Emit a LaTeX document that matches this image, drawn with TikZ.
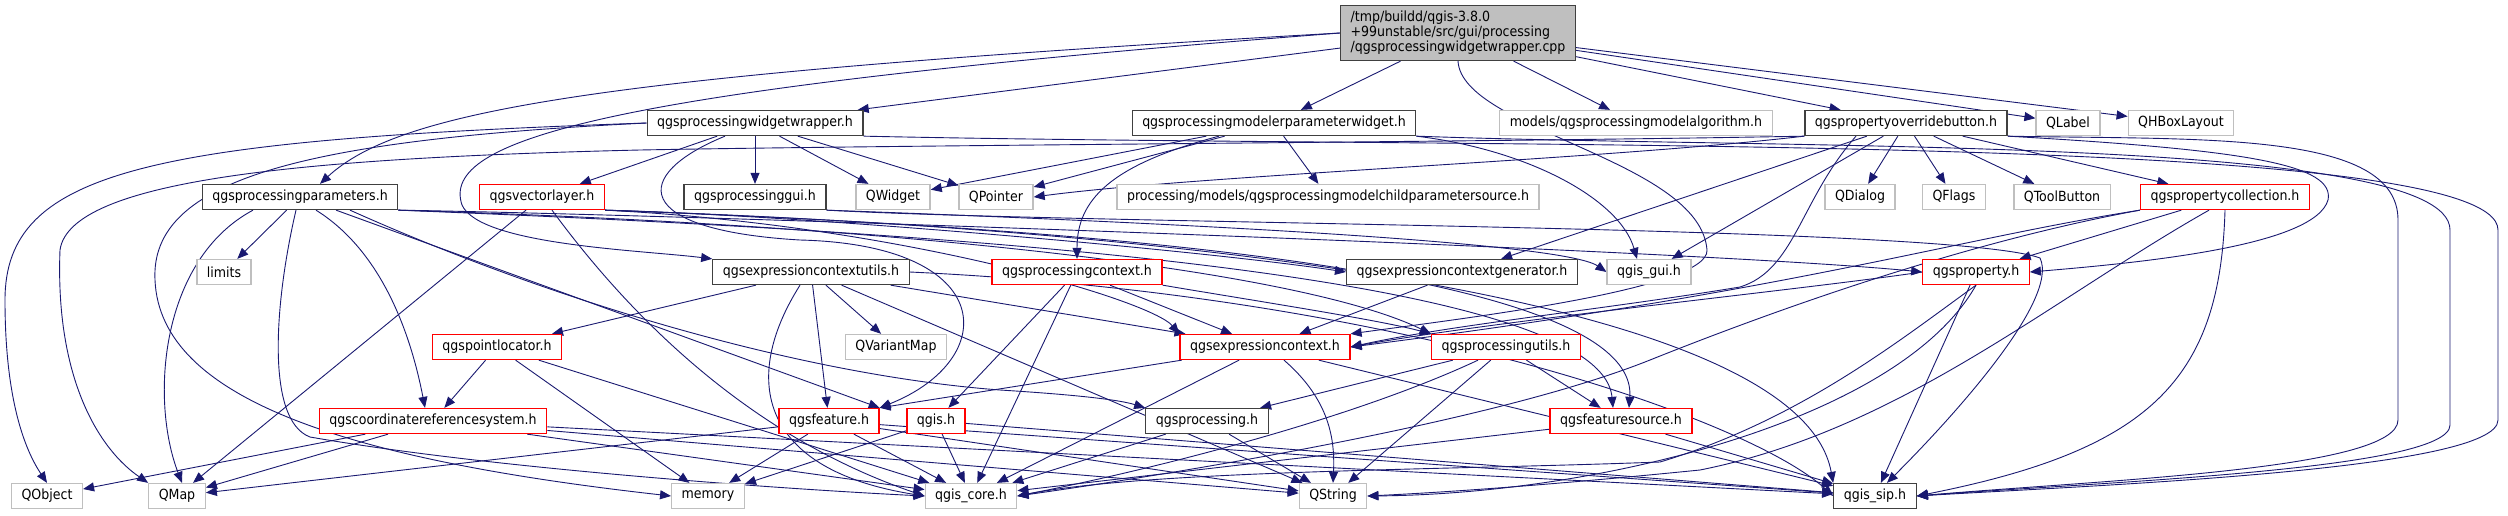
\documentclass[tikz,border=0pt]{standalone}
\usepackage{fontspec}
\setmainfont{DejaVu Sans Condensed}
\usetikzlibrary{arrows.meta,backgrounds}
\definecolor{edgeblue}{HTML}{191970}
\definecolor{extgray}{HTML}{BFBFBF}
\definecolor{boxdark}{HTML}{404040}

\begin{document}
\begin{tikzpicture}[x=1pt,y=-1pt,
    hdr/.style={draw=boxdark,fill=white,line width=1.3pt,inner xsep=10pt,inner ysep=0pt,
                minimum height=25pt,font=\fontsize{14}{15}\selectfont},
    ext/.style={hdr,draw=extgray},
    trunc/.style={hdr,draw=red},
    rootfile/.style={hdr,fill=extgray,align=left,minimum height=55pt},
    inc/.style={draw=edgeblue,line width=0.9pt,-{Triangle[length=11pt,width=9pt]}}]
\useasboundingbox (0,0) rectangle (2508,515);

\node[rootfile] (root) at (1458,33) {/tmp/buildd/qgis-3.8.0\\+99unstable/src/gui/processing\\/qgsprocessingwidgetwrapper.cpp};

\node[hdr] (pww) at (755,123) {qgsprocessingwidgetwrapper.h};
\node[hdr] (pmpw) at (1274,123) {qgsprocessingmodelerparameterwidget.h};
\node[ext] (pma) at (1636,123) {models/qgsprocessingmodelalgorithm.h};
\node[hdr] (pob) at (1906,123) {qgspropertyoverridebutton.h};
\node[ext] (qlabel) at (2068,123) {QLabel};
\node[ext] (qhbox) at (2181,123) {QHBoxLayout};

\node[hdr] (pparams) at (300,197) {qgsprocessingparameters.h};
\node[trunc] (vlayer) at (542,197) {qgsvectorlayer.h};
\node[hdr] (pgui) at (755,197) {qgsprocessinggui.h};
\node[ext] (qwidget) at (893,197) {QWidget};
\node[ext] (qpointer) at (996,197) {QPointer};
\node[ext] (mcps) at (1328,197) {processing/models/qgsprocessingmodelchildparametersource.h};
\node[ext] (qdialog) at (1860,197) {QDialog};
\node[ext] (qflags) at (1954,197) {QFlags};
\node[ext] (qtoolbutton) at (2062,197) {QToolButton};
\node[trunc] (pcoll) at (2225,197) {qgspropertycollection.h};

\node[ext] (limits) at (224,272) {limits};
\node[hdr] (ecu) at (811,272) {qgsexpressioncontextutils.h};
\node[trunc] (pctx) at (1077,272) {qgsprocessingcontext.h};
\node[hdr] (ecg) at (1462,272) {qgsexpressioncontextgenerator.h};
\node[ext] (qgisgui) at (1649,272) {qgis\_gui.h};
\node[trunc] (prop) at (1976,272) {qgsproperty.h};

\node[trunc] (ploc) at (497,347) {qgspointlocator.h};
\node[ext] (qvarmap) at (896,347) {QVariantMap};
\node[trunc] (ectx) at (1265,347) {qgsexpressioncontext.h};
\node[trunc] (putils) at (1506,347) {qgsprocessingutils.h};

\node[trunc] (crs) at (433,421) {qgscoordinatereferencesystem.h};
\node[trunc] (feature) at (829,421) {qgsfeature.h};
\node[trunc] (qgish) at (936,421) {qgis.h};
\node[hdr] (processing) at (1207,421) {qgsprocessing.h};
\node[trunc] (fsource) at (1621,421) {qgsfeaturesource.h};

\node[ext] (qobject) at (47,496) {QObject};
\node[ext] (qmap) at (177,496) {QMap};
\node[ext] (memory) at (708,496) {memory};
\node[ext] (qgiscore) at (971,496) {qgis\_core.h};
\node[ext] (qstring) at (1333,496) {QString};
\node[hdr] (qgissip) at (1875,496) {qgis\_sip.h};

\begin{pgfonlayer}{background}
\draw[inc] (root) -- (pww);
\draw[inc] (root) -- (pmpw);
\draw[inc] (root) -- (pma);
\draw[inc] (root) -- (pob);
\draw[inc] (root) -- (qlabel);
\draw[inc] (root) -- (qhbox);
\draw[inc] (root.west) .. controls (600,75) and (400,110) .. ([xshift=20pt]pparams.north);
\draw[inc] (root.west) .. controls (600,90) and (440,140) .. (462,205) .. controls (480,245) and (640,250) .. (ecu.north west);
\draw[inc] (root.south) .. controls (1462,130) and (1700,160) .. (1707,250) .. controls (1710,290) and (1450,320) .. (ectx.north east);

\draw[inc] (pww.west) .. controls (150,140) and (5,170) .. (5,300) .. controls (5,400) and (25,450) .. (qobject.north);
\draw[inc] (pww.west) .. controls (300,140) and (150,180) .. (155,280) .. controls (160,400) and (350,460) .. (memory.west);
\draw[inc] (pww) -- (vlayer);
\draw[inc] (pww) -- (pgui);
\draw[inc] (pww) -- (qwidget);
\draw[inc] (pww) -- (qpointer);
\draw[inc] ([xshift=-30pt]pww.south) .. controls (630,175) and (630,230) .. (800,240) .. controls (1000,245) and (1000,360) .. (feature.north east);
\draw[inc] (pww.south east) .. controls (1500,150) and (2498,130) .. (2498,230) -- (2498,420) .. controls (2498,470) and (2100,485) .. (qgissip.east);

\draw[inc] (pmpw) -- (qwidget);
\draw[inc] (pmpw) -- (qpointer);
\draw[inc] (pmpw) -- (mcps);
\draw[inc] ([xshift=-55pt]pmpw.south) .. controls (1110,165) and (1077,200) .. (pctx.north);
\draw[inc] (pmpw.south east) .. controls (1530,150) and (1620,200) .. ([xshift=-12pt]qgisgui.north);
\draw[inc] (pmpw.south east) .. controls (1800,150) and (2450,135) .. (2450,230) -- (2450,425) .. controls (2450,470) and (2100,482) .. (qgissip.east);

\draw[inc] (pob) -- (qdialog);
\draw[inc] (pob) -- (qflags);
\draw[inc] (pob) -- (qtoolbutton);
\draw[inc] (pob) -- (pcoll);
\draw[inc] (pob.south west) .. controls (1600,160) and (1200,175) .. (qpointer.east);
\draw[inc] (pob.south west) .. controls (1500,142) and (900,145) .. (640,150) .. controls (300,158) and (70,180) .. (60,250) .. controls (55,380) and (100,450) .. (qmap.north west);
\draw[inc] (pob) -- (qgisgui);
\draw[inc] (pob) -- (ecg);
\draw[inc] ([xshift=-50pt]pob.south) .. controls (1800,200) and (1795,270) .. (1740,287) .. controls (1600,310) and (1450,325) .. (ectx.east);
\draw[inc] (pob.south east) .. controls (2250,150) and (2335,165) .. (2328,200) .. controls (2315,245) and (2150,262) .. (prop.east);
\draw[inc] (pob.south east) .. controls (2200,140) and (2398,130) .. (2398,220) -- (2398,420) .. controls (2398,470) and (2100,480) .. (qgissip.east);

\draw[inc] (pcoll) -- (prop);
\draw[inc] (pcoll.south west) .. controls (1950,240) and (1800,290) .. (ectx.east);
\draw[inc] (pcoll.south west) .. controls (1950,245) and (1750,320) .. (1650,360) .. controls (1500,420) and (1200,470) .. (qgiscore.east);
\draw[inc] ([xshift=-16pt]pcoll.south) .. controls (2050,300) and (1900,430) .. (1700,470) .. controls (1550,485) and (1450,492) .. (qstring.east);
\draw[inc] (pcoll.south) .. controls (2220,380) and (2150,450) .. (qgissip.east);

\draw[inc] (prop.west) .. controls (1800,290) and (1500,320) .. (ectx.east);
\draw[inc] (prop.south) .. controls (1900,340) and (1800,420) .. (1660,462) .. controls (1450,470) and (1150,470) .. (qgiscore.east);
\draw[inc] (prop.south) .. controls (1900,420) and (1600,494) .. (qstring.east);
\draw[inc] (prop) -- (qgissip);

\draw[inc] (pparams) -- (limits);
\draw[inc] ([xshift=-47pt]pparams.south) .. controls (160,260) and (150,400) .. ([xshift=5pt]qmap.north);
\draw[inc] ([xshift=16pt]pparams.south) .. controls (380,250) and (410,330) .. ([xshift=-8pt]crs.north);
\draw[inc] ([xshift=-4pt]pparams.south) .. controls (275,300) and (265,420) .. (310,437) .. controls (500,470) and (800,490) .. (qgiscore.west);
\draw[inc] (pparams) -- (feature.north east);
\draw[inc] ([xshift=50pt]pparams.south) .. controls (550,300) and (800,375) .. (1000,390) .. controls (1080,395) and (1120,400) .. (processing.north west);
\draw[inc] (pparams.south east) .. controls (700,215) and (1700,250) .. (prop.west);
\draw[inc] (pparams.south east) .. controls (900,225) and (1300,270) .. (putils.north west);
\draw[inc] (pparams.south east) .. controls (900,230) and (1600,270) .. ([xshift=-8pt]fsource.north);

\draw[inc] (vlayer) -- (qmap);
\draw[inc] ([xshift=10pt]vlayer.south) .. controls (640,330) and (760,440) .. (qgiscore.west);
\draw[inc] (vlayer.south east) .. controls (800,215) and (1200,250) .. (ecg.west);
\draw[inc] (vlayer.south east) .. controls (900,225) and (1150,300) .. (ectx.north west);
\draw[inc] (vlayer.south east) .. controls (1000,225) and (1640,260) .. ([xshift=8pt]fsource.north);
\draw[inc] (vlayer.south east) .. controls (1200,230) and (1800,300) .. (qgissip.north west);

\draw[inc] (pgui.south east) .. controls (1100,220) and (1560,240) .. (qgisgui.west);
\draw[inc] (pgui.south east) .. controls (1100,225) and (1950,225) .. (2040,258) .. controls (2060,300) and (1950,420) .. ([xshift=12pt]qgissip.north);

\draw[inc] (ecu) -- (ploc);
\draw[inc] (ecu) -- (feature);
\draw[inc] (ecu) -- (qvarmap);
\draw[inc] (ecu) -- (ectx);
\draw[inc] ([xshift=-11pt]ecu.south) .. controls (740,380) and (760,470) .. (qgiscore.west);
\draw[inc] (ecu) -- (qstring);
\draw[inc] (ecu.east) .. controls (1400,295) and (1750,420) .. (qgissip.west);

\draw[inc] (pctx) -- (ectx);
\draw[inc] (pctx) -- (qgish);
\draw[inc] (pctx) -- (qgiscore);
\draw[inc] (pctx.south east) .. controls (1250,300) and (1380,320) .. (putils.north west);

\draw[inc] (ecg) -- (ectx);

\draw[inc] (ploc) -- (crs);
\draw[inc] (ploc) -- (memory);
\draw[inc] (ploc) -- (qgiscore);

\draw[inc] (ectx) -- (feature.north east);
\draw[inc] (ectx) -- (qgiscore);
\draw[inc] ([xshift=19pt]ectx.south) .. controls (1330,400) and (1335,440) .. (qstring.north);
\draw[inc] (ectx) -- (qgissip);

\draw[inc] (putils) -- (processing);
\draw[inc] ([xshift=-28pt]putils.south) .. controls (1350,420) and (1150,470) .. (qgiscore.east);
\draw[inc] (putils) -- (qstring);
\draw[inc] (putils) -- (fsource);

\draw[inc] (crs) -- (qobject);
\draw[inc] (crs) -- (qmap);
\draw[inc] (crs) -- (qgiscore);
\draw[inc] (crs) -- (qstring);
\draw[inc] (crs) -- (qgissip);

\draw[inc] (feature) -- (qmap);
\draw[inc] (feature) -- (memory);
\draw[inc] (feature) -- (qgiscore);
\draw[inc] (feature) -- (qstring);
\draw[inc] (feature) -- (qgissip);

\draw[inc] (qgish) -- (memory);
\draw[inc] (qgish) -- (qgiscore);
\draw[inc] (qgish) -- (qgissip);

\draw[inc] (processing) -- (qgiscore);
\draw[inc] (processing) -- (qstring);

\draw[inc] (fsource) -- (qgiscore);
\draw[inc] (fsource) -- (qgissip);
\end{pgfonlayer}
\end{tikzpicture}
\end{document}
